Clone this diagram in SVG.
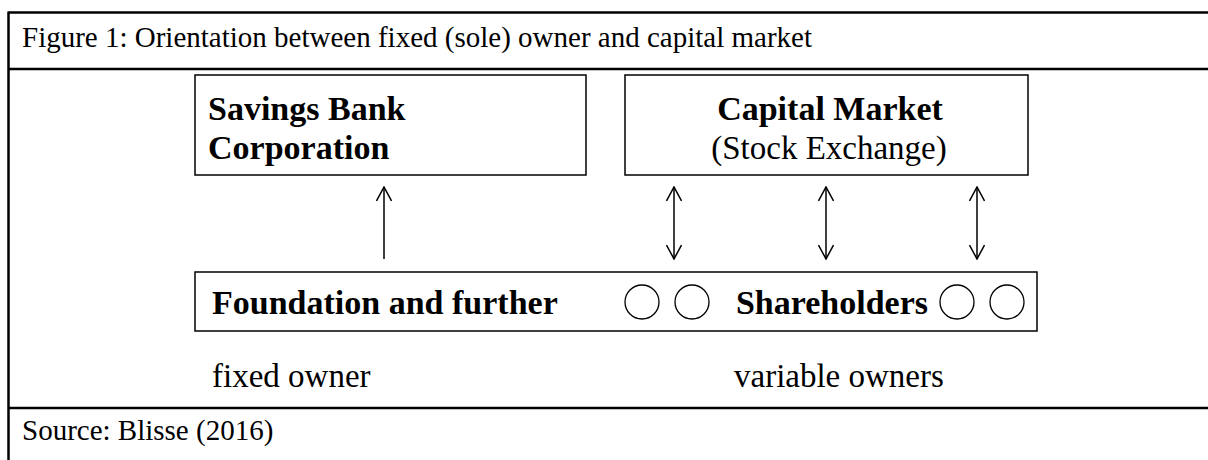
<svg xmlns="http://www.w3.org/2000/svg" width="1208" height="460" viewBox="0 0 1208 460">
<style>
text{font-family:"Liberation Serif","Times New Roman",serif;fill:#000}
.cap{font-size:29px}
.b{font-size:34px;font-weight:bold}
.r{font-size:33px}
.frame{stroke:#000;stroke-width:2.5;fill:none}
.box{stroke:#000;stroke-width:1.5;fill:#fff}
.conn{stroke:#000;stroke-width:1.5;fill:none}
.own{stroke:#000;stroke-width:1.3;fill:#fff}
</style>
<defs>
<marker id="v" viewBox="0 0 16 16" refX="15" refY="8" markerWidth="16" markerHeight="16" markerUnits="userSpaceOnUse" orient="auto-start-reverse">
<path d="M1,0.5 L15,8 L1,15.5" fill="none" stroke="#000" stroke-width="1.5"/>
</marker>
</defs>
<rect width="1208" height="460" fill="#fff"/>
<g id="frame">
<line class="frame" x1="8.5" y1="12.5" x2="1208" y2="12.5"/>
<line class="frame" x1="8.5" y1="69" x2="1208" y2="69"/>
<line class="frame" x1="8.5" y1="408" x2="1208" y2="408"/>
<line class="frame" x1="8.5" y1="11.5" x2="8.5" y2="460"/>
</g>
<text id="title" class="cap" x="22" y="47">Figure 1: Orientation between fixed (sole) owner and capital market</text>
<g id="savings-bank">
<rect class="box" x="195" y="75" width="391" height="100"/>
<text class="b" x="208" y="120">Savings Bank</text>
<text class="b" x="208" y="159">Corporation</text>
</g>
<g id="capital-market">
<rect class="box" x="625" y="75" width="403" height="100"/>
<text class="b" x="830" y="120" text-anchor="middle">Capital Market</text>
<text class="r" x="829" y="159" text-anchor="middle">(Stock Exchange)</text>
</g>
<g id="owners">
<rect class="box" x="195" y="272" width="842" height="59"/>
<text class="b" x="212" y="314">Foundation and further</text>
<circle class="own" cx="642" cy="302" r="17"/>
<circle class="own" cx="692" cy="302" r="17"/>
<text class="b" x="832" y="314" text-anchor="middle">Shareholders</text>
<circle class="own" cx="957" cy="302" r="17"/>
<circle class="own" cx="1007" cy="302" r="17"/>
</g>
<g id="connectors">
<line class="conn" x1="384" y1="259" x2="384" y2="187" marker-end="url(#v)"/>
<line class="conn" x1="674" y1="187" x2="674" y2="259" marker-start="url(#v)" marker-end="url(#v)"/>
<line class="conn" x1="826" y1="187" x2="826" y2="259" marker-start="url(#v)" marker-end="url(#v)"/>
<line class="conn" x1="977" y1="187" x2="977" y2="259" marker-start="url(#v)" marker-end="url(#v)"/>
</g>
<text id="fixed-owner" class="r" x="212" y="387">fixed owner</text>
<text id="variable-owners" class="r" x="734" y="387">variable owners</text>
<text id="source" class="cap" x="22" y="440">Source: Blisse (2016)</text>
</svg>
